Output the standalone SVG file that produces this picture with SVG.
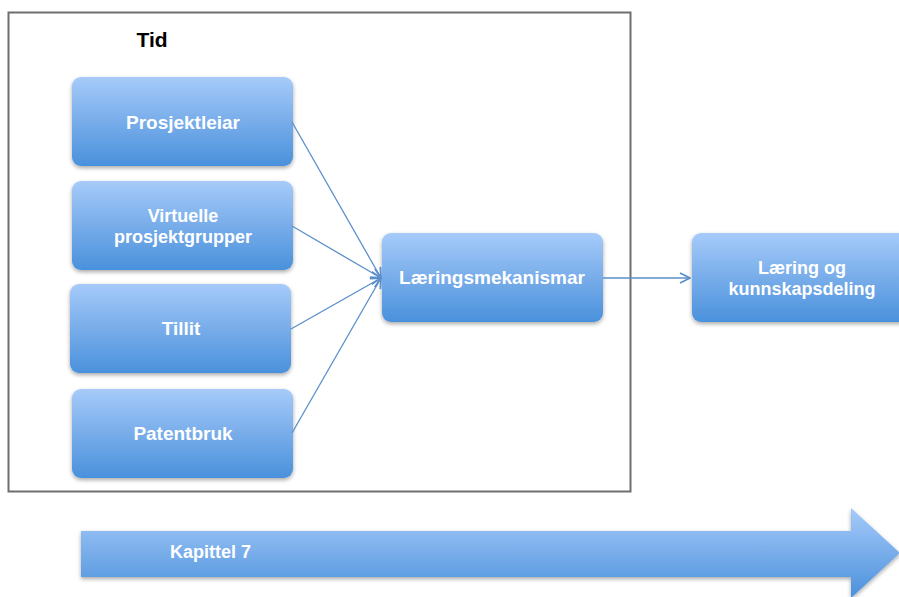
<svg xmlns="http://www.w3.org/2000/svg" width="899" height="597" viewBox="0 0 899 597">
<defs>
<linearGradient id="g" x1="0" y1="0" x2="0" y2="1">
<stop offset="0" stop-color="#a6cbfa"/>
<stop offset="0.5" stop-color="#78adea"/>
<stop offset="1" stop-color="#4a91dc"/>
</linearGradient>
<filter id="sh" x="-10%" y="-10%" width="120%" height="130%">
<feGaussianBlur in="SourceAlpha" stdDeviation="2"/>
<feOffset dx="0" dy="2" result="b"/>
<feComponentTransfer><feFuncA type="linear" slope="0.35"/></feComponentTransfer>
<feMerge><feMergeNode/><feMergeNode in="SourceGraphic"/></feMerge>
</filter>
<marker id="ah" viewBox="0 0 12 12" refX="11" refY="6" markerWidth="12" markerHeight="12" markerUnits="userSpaceOnUse" orient="auto">
<path d="M1,1 L11,6 L1,11" fill="none" stroke="#5b8fcb" stroke-width="1.8"/>
</marker>
</defs>
<style>
.box{fill:url(#g);filter:url(#sh)}
.t{font-family:"Liberation Sans",Arial,sans-serif;font-weight:bold;font-size:19px;fill:#ffffff;text-anchor:middle}
.t2{font-size:18px}
.c{fill:none;stroke:#5b8fcb;stroke-width:1.3}
</style>
<rect x="8.5" y="12.5" width="622" height="479" fill="#fff" stroke="#6e6e6e" stroke-width="2"/>
<text x="152" y="47" font-family="Liberation Sans,Arial,sans-serif" font-weight="bold" font-size="21" fill="#000" text-anchor="middle">Tid</text>
<g id="n1"><rect class="box" x="72" y="77" width="221" height="89" rx="9"/><text class="t" x="183" y="129">Prosjektleiar</text></g>
<g id="n2"><rect class="box" x="72" y="181" width="221" height="89" rx="9"/><text class="t t2" x="183" y="222">Virtuelle</text><text class="t t2" x="183" y="243">prosjektgrupper</text></g>
<g id="n3"><rect class="box" x="70" y="284" width="221" height="89" rx="9"/><text class="t" x="181" y="335">Tillit</text></g>
<g id="n4"><rect class="box" x="72" y="389" width="221" height="89" rx="9"/><text class="t" x="183" y="440">Patentbruk</text></g>
<g id="n5"><rect class="box" x="382" y="233" width="221" height="89" rx="9"/><text class="t" x="492" y="284">Læringsmekanismar</text></g>
<g id="n6"><rect class="box" x="692" y="233" width="221" height="89" rx="9"/><text class="t t2" x="802" y="274">Læring og</text><text class="t t2" x="802" y="295">kunnskapsdeling</text></g>
<g id="connectors">
<line class="c" x1="292" y1="122" x2="381" y2="278" marker-end="url(#ah)"/>
<line class="c" x1="292" y1="226" x2="381" y2="278" marker-end="url(#ah)"/>
<line class="c" x1="291" y1="329" x2="381" y2="278" marker-end="url(#ah)"/>
<line class="c" x1="292" y1="433" x2="381" y2="278" marker-end="url(#ah)"/>
<line class="c" x1="603" y1="278" x2="690" y2="278" marker-end="url(#ah)"/>
</g>
<g id="timeline">
<path class="box" d="M81,531 L851,531 L851,508 L900,553 L851,598 L851,577 L81,577 Z"/>
<text x="170" y="558" font-family="Liberation Sans,Arial,sans-serif" font-weight="bold" font-size="18" fill="#fff">Kapittel 7</text>
</g>
</svg>
